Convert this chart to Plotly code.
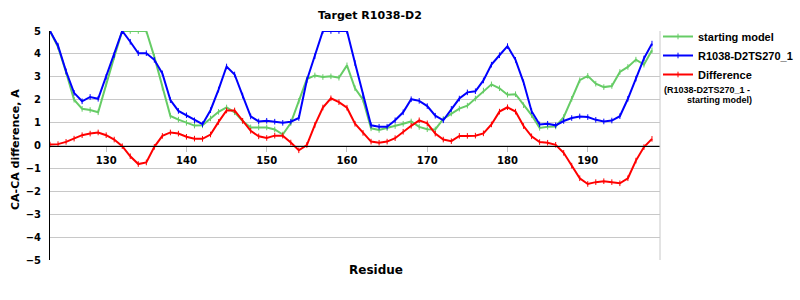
import plotly.graph_objects as go

residues = list(range(123, 199))

model_ts270 = [5.0, 4.36, 3.24, 2.3, 1.93, 2.12, 2.04, 3.0, 3.95, 5.0,
               4.53, 4.03, 4.03, 3.74, 3.15, 1.98, 1.51, 1.32, 1.1, 0.93,
               1.54, 2.44, 3.45, 3.1, 2.18, 1.27, 1.05, 1.08, 1.04, 0.99,
               1.04, 1.2, 2.85, 3.9, 5.0, 5.0, 5.0, 5.0, 3.6, 2.19,
               0.88, 0.82, 0.82, 1.1, 1.45, 2.02, 1.95, 1.72, 1.3, 1.1,
               1.6, 2.05, 2.32, 2.37, 2.84, 3.53, 3.94, 4.34, 3.74, 2.76,
               1.5, 0.92, 0.95, 0.88, 1.07, 1.2, 1.27, 1.24, 1.12, 1.05,
               1.09, 1.28, 2.04, 2.92, 3.8, 4.45]

starting_model = [5.0, 4.3, 3.2, 2.0, 1.6, 1.55, 1.45, 2.7, 3.87, 5.0,
                  5.0, 5.0, 5.0, 3.87, 2.53, 1.29, 1.13, 0.99, 0.87, 0.88,
                  1.18, 1.47, 1.66, 1.45, 1.07, 0.79, 0.79, 0.79, 0.7, 0.48,
                  0.98, 1.95, 2.9, 3.06, 2.99, 3.02, 2.96, 3.5, 2.5, 2.0,
                  0.75, 0.68, 0.76, 0.85, 0.95, 1.05, 0.81, 0.71, 0.7, 1.16,
                  1.4, 1.61, 1.74, 2.05, 2.4, 2.67, 2.5, 2.22, 2.24, 1.76,
                  1.33, 0.77, 0.82, 0.83, 1.24, 2.04, 2.85, 3.04, 2.7, 2.55,
                  2.6, 3.21, 3.43, 3.75, 3.53, 4.16]

difference = [0.04, 0.06, 0.16, 0.3, 0.45, 0.52, 0.57, 0.45, 0.26, -0.03,
              -0.47, -0.81, -0.74, -0.06, 0.42, 0.57, 0.52, 0.38, 0.3, 0.29,
              0.48, 1.03, 1.53, 1.53, 1.08, 0.64, 0.4, 0.33, 0.43, 0.43,
              0.13, -0.21, 0.02, 0.9, 1.66, 2.06, 1.89, 1.65, 0.95, 0.55,
              0.17, 0.12, 0.17, 0.32, 0.6, 0.86, 1.1, 0.97, 0.52, 0.26,
              0.19, 0.42, 0.42, 0.43, 0.53, 0.92, 1.48, 1.67, 1.48, 0.85,
              0.4, 0.15, 0.12, 0.03, -0.32, -0.88, -1.43, -1.68, -1.6, -1.56,
              -1.6, -1.65, -1.43, -0.66, -0.07, 0.29]

x_ticks = [130, 140, 150, 160, 170, 180, 190]
y_ticks = [-5, -4, -3, -2, -1, 0, 1, 2, 3, 4, 5]

W, H = 800, 300
ML, MR, MT, MB = 50, 140, 31, 40
PW, PH = W - ML - MR, H - MT - MB


def px(x):
    return (x - ML) / PW


def py(y):
    return (H - MB - y) / PH


def trace(name, vals, color):
    return go.Scatter(
        x=residues, y=vals, name=name, mode="lines+markers",
        line=dict(color=color, width=2),
        marker=dict(symbol="line-ns", size=4, color=color,
                    line=dict(color=color, width=1)),
    )


fig = go.Figure()
fig.add_trace(trace("starting model", starting_model, "#66CC66"))
fig.add_trace(trace("R1038-D2TS270_1", model_ts270, "#0000FF"))
fig.add_trace(trace("Difference", difference, "#FF0000"))

fig.update_layout(
    width=W, height=H,
    margin=dict(l=ML, r=MR, t=MT, b=MB, pad=0, autoexpand=False),
    paper_bgcolor="white", plot_bgcolor="white",
    font=dict(family="DejaVu Sans", size=11, color="black"),
    showlegend=True,
    legend=dict(
        x=px(658), y=py(22), xanchor="left", yanchor="top",
        font=dict(family="Liberation Sans", size=11, color="black", weight="bold"),
        bgcolor="rgba(0,0,0,0)", borderwidth=0,
        itemwidth=30, tracegroupgap=0,
    ),
    xaxis=dict(
        range=[123, 199], tickvals=x_ticks, ticktext=[str(v) for v in x_ticks],
        showgrid=False, zeroline=False,
        showline=True, linecolor="black", linewidth=1,
        anchor="free", position=0.5,
        ticks="outside", ticklen=5, tickcolor="#C0C0C0",
        tickfont=dict(family="DejaVu Sans", size=10, color="black", weight="bold"),
    ),
    yaxis=dict(
        range=[-5, 5], tickvals=y_ticks, ticktext=[("\u2212" + str(-v)) if v < 0 else str(v) for v in y_ticks],
        showgrid=True, gridcolor="#C8C8C8", gridwidth=1,
        zeroline=False, showline=True, linecolor="black", linewidth=1,
        ticks="", ticklabelstandoff=6,
        tickfont=dict(family="DejaVu Sans", size=10, color="black", weight="bold"),
    ),
    shapes=[dict(type="line", xref="paper", yref="paper", x0=1, x1=1, y0=0, y1=1,
                 line=dict(color="#C8C8C8", width=1))],
    annotations=[
        dict(text="Target R1038-D2", x=px(370), y=py(15), xref="paper", yref="paper",
             showarrow=False, xanchor="center", yanchor="middle",
             font=dict(family="DejaVu Sans", size=11, weight="bold")),
        dict(text="Residue", x=px(376), y=py(270), xref="paper", yref="paper",
             showarrow=False, xanchor="center", yanchor="middle",
             font=dict(family="DejaVu Sans", size=12, weight="bold")),
        dict(text="CA-CA difference, A", x=px(15), y=py(150), xref="paper", yref="paper",
             showarrow=False, xanchor="center", yanchor="middle", textangle=-90,
             font=dict(family="DejaVu Sans", size=11, weight="bold")),
        dict(text="(R1038-D2TS270_1 -", x=px(662), y=py(90), xref="paper", yref="paper",
             showarrow=False, xanchor="left", yanchor="middle",
             font=dict(family="Liberation Sans", size=9, weight="bold")),
        dict(text="starting model)", x=px(685), y=py(100), xref="paper", yref="paper",
             showarrow=False, xanchor="left", yanchor="middle",
             font=dict(family="Liberation Sans", size=9, weight="bold")),
    ],
)

fig.write_html("out.html")
